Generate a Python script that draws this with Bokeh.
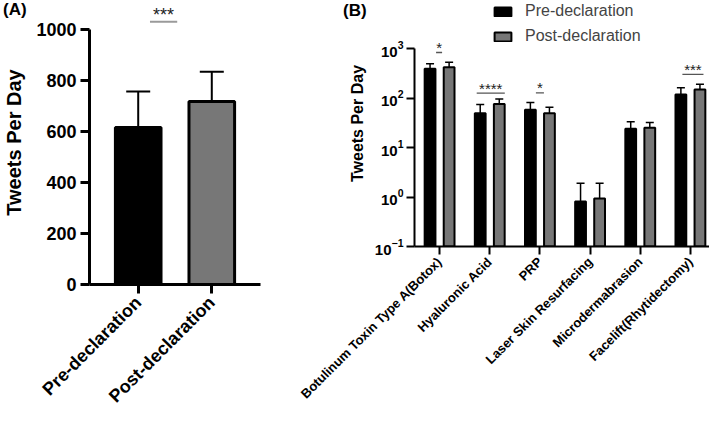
from math import pi
from bokeh.plotting import figure
from bokeh.models import (FactorRange, Range1d, Whisker, TeeHead, ColumnDataSource,
                          Legend, LegendItem, FixedTicker, Div)
from bokeh.transform import dodge
from bokeh.layouts import row
from bokeh.embed import file_html
from bokeh.resources import INLINE
from bokeh.core.properties import value

FONT = "Liberation Sans"

# ---------------- Panel A data ----------------
a_groups = ["Pre-declaration", "Post-declaration"]
a_means = [616, 718]
a_upper = [757, 835]
a_colors = ["#000000", "#777777"]
a_yticks = [0, 200, 400, 600, 800, 1000]
a_sig_label = ["***"]
a_sig_x0 = [0.66]
a_sig_x1 = [1.03]
a_sig_y = [1031]

# ---------------- Panel B data ----------------
b_cats = ["Botulinum Toxin Type A(Botox)", "Hyaluronic Acid", "PRP",
          "Laser Skin Resurfacing", "Microdermabrasion", "Facelift(Rhytidectomy)"]
b_pre = [390, 49, 58, 0.81, 24, 118]
b_post = [418, 76, 49, 0.93, 25, 148]
b_pre_err = [490, 74, 81, 1.9, 33, 161]
b_post_err = [525, 96, 65, 1.9, 32, 190]
b_yticks = [0.1, 1, 10, 100, 1000]
b_sig_cat = [0, 1, 2, 5]
b_sig_label = ["*", "****", "*", "***"]
b_sig_y = [830, 125, 127, 299]
b_sig_x0 = [-0.07, -0.26, -0.08, -0.16]
b_sig_x1 = [0.05, 0.30, 0.08, 0.26]

# ================= Panel A =================
pa = figure(frame_width=171, frame_height=284, output_backend="svg", toolbar_location=None,
            x_range=FactorRange(factors=a_groups, range_padding=0.162,
                                range_padding_units="absolute"),
            y_range=Range1d(0, 1114),
            min_border_left=82, min_border_right=8, min_border_top=0,
            min_border_bottom=142)
pa.outline_line_color = None
pa.grid.visible = False

src_a = ColumnDataSource(dict(g=a_groups, m=a_means, u=a_upper, c=a_colors))
pa.vbar(x="g", top="m", width=0.62, bottom=0, source=src_a, fill_color="c",
        line_color="black", line_width=3)
pa.add_layout(Whisker(base="g", lower="m", upper="u", source=src_a,
                      line_color="black", line_width=2, lower_head=None,
                      upper_head=TeeHead(size=24, line_width=2, line_color="black")))

sig_a = ColumnDataSource(dict(x0=a_sig_x0, x1=a_sig_x1, y=a_sig_y, t=a_sig_label,
                              xc=[(a + b) / 2 for a, b in zip(a_sig_x0, a_sig_x1)]))
pa.segment(x0="x0", x1="x1", y0="y", y1="y", source=sig_a, line_color="#9a9a9a", line_width=2)
pa.text(x="xc", y="y", text="t", source=sig_a, text_align="center", text_baseline="alphabetic",
        y_offset=-7, text_font=value(FONT), text_font_size="18px", text_color="#222222")

pa.yaxis.ticker = FixedTicker(ticks=a_yticks)
pa.yaxis.bounds = (0, 1000)
for ax in (pa.xaxis[0], pa.yaxis[0]):
    ax.axis_line_width = 3
    ax.major_tick_line_width = 3
    ax.major_tick_out = 9
    ax.major_tick_in = 0
    ax.minor_tick_line_color = None
    ax.major_label_text_font = FONT
    ax.major_label_text_font_style = "bold"
    ax.major_label_text_color = "black"
    ax.axis_line_color = "black"
    ax.major_tick_line_color = "black"
pa.yaxis.major_label_text_font_size = "18px"
pa.yaxis.major_label_standoff = 4
pa.yaxis.axis_label = "Tweets Per Day"
pa.yaxis.axis_label_text_font = FONT
pa.yaxis.axis_label_text_font_size = "20px"
pa.yaxis.axis_label_text_font_style = "bold"
pa.yaxis.axis_label_text_color = "black"
pa.yaxis.axis_label_standoff = 8
pa.xaxis.major_label_text_font_size = "18px"
pa.xaxis.major_label_orientation = pi / 4
pa.xaxis.major_label_standoff = 6

# ================= Panel B =================
pb = figure(frame_width=301, frame_height=246, output_backend="svg", toolbar_location=None,
            x_range=FactorRange(factors=b_cats, range_padding=0),
            y_range=Range1d(0.1, 9330), y_axis_type="log",
            min_border_left=146, min_border_right=1, min_border_top=0,
            min_border_bottom=180)
pb.outline_line_color = None
pb.grid.visible = False

src_b = ColumnDataSource(dict(cat=b_cats, pre=b_pre, post=b_post,
                              pre_e=b_pre_err, post_e=b_post_err))
r_pre = pb.vbar(x=dodge("cat", -0.19, range=pb.x_range), top="pre", bottom=0.1, width=0.215,
                source=src_b, fill_color="#000000", line_color="black", line_width=2)
r_post = pb.vbar(x=dodge("cat", 0.19, range=pb.x_range), top="post", bottom=0.1, width=0.215,
                 source=src_b, fill_color="#777777", line_color="black", line_width=2)
for off, lo, up in ((-0.19, "pre", "pre_e"), (0.19, "post", "post_e")):
    pb.add_layout(Whisker(base=dodge("cat", off, range=pb.x_range), lower=lo, upper=up,
                          source=src_b, line_color="black", line_width=1.5, lower_head=None,
                          upper_head=TeeHead(size=8, line_width=1.5, line_color="black")))

sig_b = ColumnDataSource(dict(
    x0=[i + 0.5 + o for i, o in zip(b_sig_cat, b_sig_x0)],
    x1=[i + 0.5 + o for i, o in zip(b_sig_cat, b_sig_x1)],
    xc=[i + 0.5 + (a + b) / 2 for i, a, b in zip(b_sig_cat, b_sig_x0, b_sig_x1)],
    y=b_sig_y, t=b_sig_label))
pb.segment(x0="x0", x1="x1", y0="y", y1="y", source=sig_b, line_color="#555555", line_width=1.3)
pb.text(x="xc", y="y", text="t", source=sig_b, text_align="center", text_baseline="alphabetic",
        y_offset=-5, text_font=value(FONT), text_font_size="15px", text_color="#222222")

pb.yaxis.ticker = FixedTicker(ticks=b_yticks)
pb.yaxis.bounds = (0.1, 1000)
for ax in (pb.xaxis[0], pb.yaxis[0]):
    ax.axis_line_width = 2
    ax.major_tick_line_width = 2
    ax.major_tick_out = 8
    ax.major_tick_in = 0
    ax.minor_tick_line_color = None
    ax.major_label_text_font = FONT
    ax.major_label_text_font_style = "bold"
    ax.major_label_text_color = "black"
    ax.axis_line_color = "black"
    ax.major_tick_line_color = "black"
pb.yaxis.major_label_text_font_size = "15px"
pb.yaxis.major_label_standoff = 3
pb.yaxis.axis_label = "Tweets Per Day"
pb.yaxis.axis_label_text_font = FONT
pb.yaxis.axis_label_text_font_size = "16px"
pb.yaxis.axis_label_text_font_style = "bold"
pb.yaxis.axis_label_text_color = "black"
pb.yaxis.axis_label_standoff = 6
pb.xaxis.major_label_text_font_size = "13px"
pb.xaxis.major_label_orientation = pi / 4
pb.xaxis.major_label_standoff = 5

legend = Legend(items=[LegendItem(label="Pre-declaration", renderers=[r_pre]),
                       LegendItem(label="Post-declaration", renderers=[r_post])],
                location=(78, 201), orientation="vertical",
                glyph_width=21, glyph_height=11, label_height=12, spacing=7,
                label_standoff=12, padding=0, margin=0,
                label_text_font=FONT, label_text_font_size="16px",
                border_line_color=None, background_fill_alpha=0)
pb.add_layout(legend)

# panel letters (HTML text placed over the page corner of each panel)
def panel_letter(txt, left, top):
    return Div(text=txt, styles={"position": "absolute", "left": f"{left}px", "top": f"{top}px",
                                 "font-family": FONT, "font-size": "17px", "font-weight": "bold",
                                 "line-height": "19px", "color": "black", "margin": "0"})

div_a = panel_letter("(A)", 3, 0)
div_b = panel_letter("(B)", 343, 1)

layout = row(pa, pb, div_a, div_b)
open("out.html", "w").write(file_html(layout, INLINE))
